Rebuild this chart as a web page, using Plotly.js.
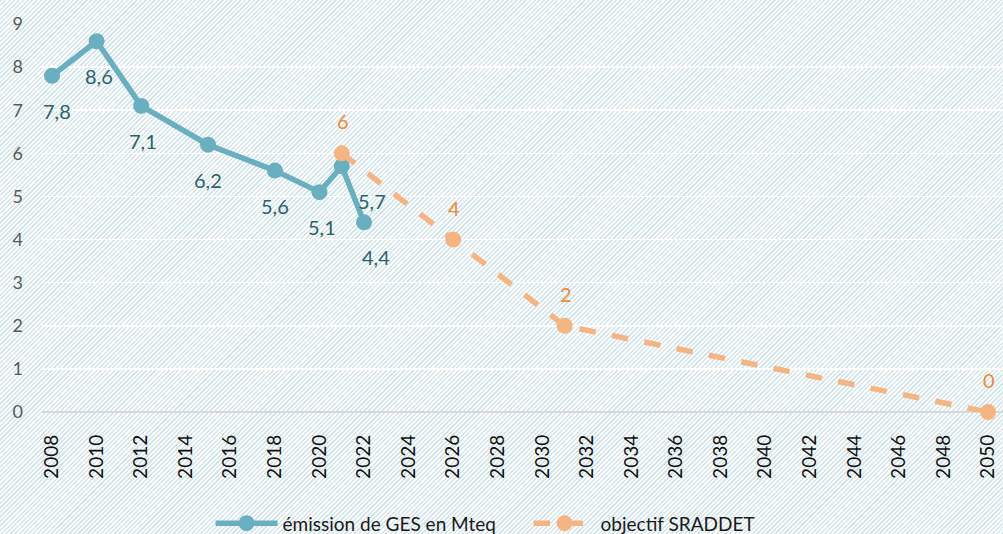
<!DOCTYPE html>
<html>
<head>
<meta charset="utf-8">
<script src="https://cdn.plot.ly/plotly-3.0.1.min.js"></script>
<style>
  html, body { margin: 0; padding: 0; }
  body {
    width: 1003px; height: 534px; overflow: hidden;
    background: repeating-linear-gradient(135deg, #d6e7ee 0px, #d6e7ee 1.6px, #ffffff 1.6px, #ffffff 3.2px);
  }
  #chart { width: 1003px; height: 534px; }
</style>
</head>
<body>
<div id="chart"></div>
<script>
const emissionYears = [2008, 2010, 2012, 2015, 2018, 2020, 2021, 2022];
const emissionValues = [7.8, 8.6, 7.1, 6.2, 5.6, 5.1, 5.7, 4.4];
const emissionLabels = ["7,8", "8,6", "7,1", "6,2", "5,6", "5,1", "5,7", "4,4"];
const targetYears = [2021, 2026, 2031, 2050];
const targetValues = [6, 4, 2, 0];
const targetLabels = ["6", "4", "2", "0"];
const xTicks = [];
for (let y = 2008; y <= 2050; y += 2) xTicks.push(y);
const yTicks = [0, 1, 2, 3, 4, 5, 6, 7, 8, 9];

// label placement offsets (px), style only
const emissionLabelDX = [5, 2, 2, 0, 0, 3, 30, 12];
const emissionLabelDY = -35;
const targetLabelDY = 32;

const font = "Lato, 'Open Sans', sans-serif";
const teal = "#6aafbf";
const orange = "#f4b583";

const traces = [
  {
    x: emissionYears, y: emissionValues,
    name: "émission de GES en Mteq",
    mode: "lines+markers",
    line: { color: teal, width: 5.5 },
    marker: { color: teal, size: 16 },
    cliponaxis: false
  },
  {
    x: targetYears, y: targetValues,
    name: "objectif SRADDET",
    mode: "lines+markers",
    line: { color: orange, width: 5.5, dash: "dash" },
    marker: { color: orange, size: 16 },
    cliponaxis: false
  }
];

const annotations = [];
emissionYears.forEach((yr, i) => {
  annotations.push({
    x: yr, y: emissionValues[i], text: emissionLabels[i],
    showarrow: false, xshift: emissionLabelDX[i], yshift: emissionLabelDY,
    font: { family: font, size: 20, color: "#2f5f6c" }
  });
});
targetYears.forEach((yr, i) => {
  annotations.push({
    x: yr, y: targetValues[i], text: targetLabels[i],
    showarrow: false, xshift: 1, yshift: targetLabelDY,
    font: { family: font, size: 20, color: "#ee8a3c" }
  });
});

const layout = {
  width: 1003, height: 534,
  paper_bgcolor: "rgba(0,0,0,0)",
  plot_bgcolor: "rgba(0,0,0,0)",
  margin: { l: 42, r: 0, t: 24, b: 122, autoexpand: false },
  font: { family: font },
  showlegend: true,
  annotations: annotations,
  legend: {
    orientation: "h",
    xref: "container", x: 0.527, xanchor: "center",
    yref: "container", y: 0.02, yanchor: "middle",
    font: { family: font, size: 19, color: "#1a1a1a" },
    bgcolor: "rgba(0,0,0,0)", itemwidth: 62, traceorder: "normal",
    entrywidth: 241, entrywidthmode: "pixels"
  },
  xaxis: {
    range: [2007.55, 2050.67], automargin: false,
    tickmode: "array", tickvals: xTicks, ticktext: xTicks.map(String),
    tickangle: -90,
    tickfont: { family: font, size: 19, color: "#111111" },
    showgrid: false, zeroline: false,
    showline: false, ticks: "", ticklabelstandoff: 18
  },
  yaxis: {
    range: [0, 9], automargin: false,
    tickmode: "array", tickvals: yTicks,
    tickfont: { family: font, size: 18, color: "#595959" },
    showgrid: true, gridcolor: "#ffffff", gridwidth: 1.5,
    zeroline: true, zerolinecolor: "#d9d9d9", zerolinewidth: 2,
    showline: false, ticks: "", ticklabelstandoff: 18
  }
};

Plotly.newPlot("chart", traces, layout, { displayModeBar: false, staticPlot: true });
</script>
</body>
</html>
